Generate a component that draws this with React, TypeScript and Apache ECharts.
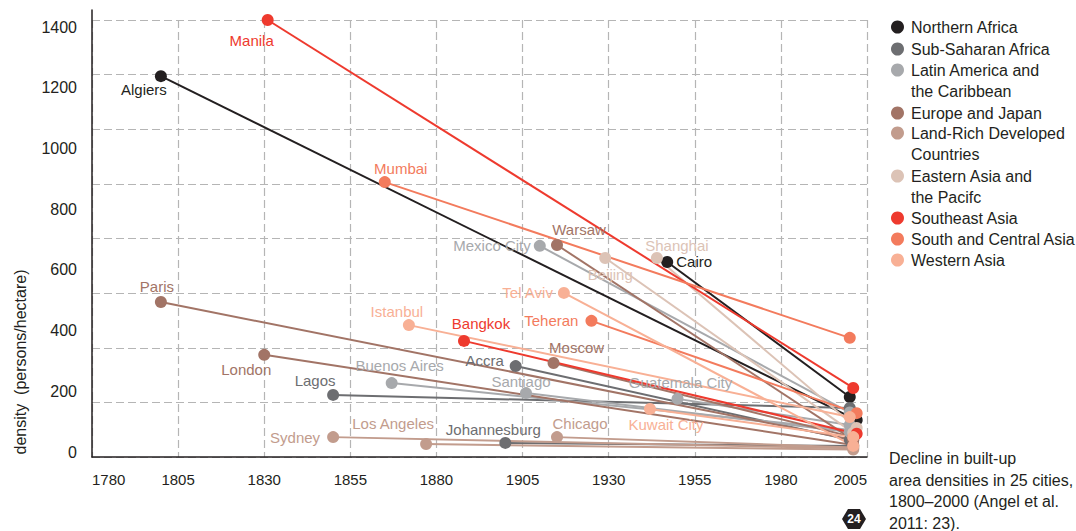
import React, { useEffect, useRef } from 'react';
import * as echarts from 'echarts';

const FONT = '"Liberation Sans", Arial, sans-serif';
const INK = '#231f20';

const regions = [
  'Northern Africa',
  'Sub-Saharan Africa',
  'Latin America and the Caribbean',
  'Europe and Japan',
  'Land-Rich Developed Countries',
  'Eastern Asia and the Pacifc',
  'Southeast Asia',
  'South and Central Asia',
  'Western Asia',
];
// legend text: first line beside the dot, optional second line below it
const legendFirstLines = [
  'Northern Africa',
  'Sub-Saharan Africa',
  'Latin America and',
  'Europe and Japan',
  'Land-Rich Developed',
  'Eastern Asia and',
  'Southeast Asia',
  'South and Central Asia',
  'Western Asia',
];
const legendSecondLines = ['', '', 'the Caribbean', '', 'Countries', 'the Pacifc', '', '', ''];
const regionColors = ['#231f20', '#6d6e71', '#a7a9ac', '#a27466', '#c29c8d', '#dcc3b6', '#ee3a2e', '#f37b5d', '#f8b095'];

const cities = [
  'Algiers', 'Cairo', 'Accra', 'Lagos', 'Johannesburg', 'Mexico City', 'Buenos Aires', 'Santiago',
  'Guatemala City', 'Paris', 'London', 'Warsaw', 'Moscow', 'Sydney', 'Los Angeles', 'Chicago',
  'Shanghai', 'Beijing', 'Manila', 'Bangkok', 'Mumbai', 'Teheran', 'Istanbul', 'Tel Aviv', 'Kuwait City',
];
const cityRegion = [0, 0, 1, 1, 1, 2, 2, 2, 2, 3, 3, 3, 3, 4, 4, 4, 5, 5, 6, 6, 7, 7, 8, 8, 8];
const startYear = [1800, 1947, 1903, 1850, 1900, 1910, 1867, 1906, 1950, 1800, 1830, 1915, 1914, 1850, 1877, 1915, 1944, 1929, 1831, 1888, 1865, 1925, 1872, 1917, 1942];
const startDensity = [1238, 626, 283, 188, 30, 679, 227, 194, 175, 494, 320, 682, 293, 49, 26, 49, 639, 639, 1423, 366, 889, 432, 418, 524, 142];
const endYear = [2002, 2000, 2000, 2000, 2001, 2000, 2001, 2000, 2000, 2001, 2001, 2001, 2001, 2001, 2001, 2001, 2002, 2001, 2001, 2002, 2000, 2002, 2000, 2001, 2001];
const endDensity = [105, 181, 40, 145, 20, 130, 72, 66, 89, 40, 23, 40, 49, 12, 8, 15, 79, 63, 211, 60, 376, 128, 115, 20, 49];

const yTicks = [0, 1400, 200];
const xTicks = [1780, 2005, 25];
const axisTitle = 'density  (persons/hectare)';
const caption = 'Decline in built-up\narea densities in 25 cities,\n1800–2000 (Angel et al.\n2011: 23).';
const pageNumber = '24';

// label placement (style only)
const labelLayout: Record<string, any> = {
  Algiers: { position: 'inside', offset: [-17, 13] },
  Cairo: { position: 'right', distance: 3 },
  Accra: { position: 'inside', offset: [-31, -6] },
  Lagos: { position: 'inside', offset: [-18, -14] },
  Johannesburg: { position: 'inside', offset: [-12, -13] },
  'Mexico City': { position: 'left', distance: 3 },
  'Buenos Aires': { position: 'inside', offset: [8, -18] },
  Santiago: { position: 'inside', offset: [-5, -12] },
  'Guatemala City': { position: 'inside', offset: [3, -16] },
  Paris: { position: 'inside', offset: [-4, -16] },
  London: { position: 'inside', offset: [-18, 15] },
  Warsaw: { position: 'inside', offset: [22, -15] },
  Moscow: { position: 'inside', offset: [23, -16] },
  Sydney: { position: 'left', distance: 7 },
  'Los Angeles': { position: 'inside', offset: [-33, -21] },
  Chicago: { position: 'inside', offset: [23, -14] },
  Shanghai: { position: 'inside', offset: [20, -13] },
  Beijing: { position: 'inside', offset: [5, 16] },
  Manila: { position: 'inside', offset: [-16, 20] },
  Bangkok: { position: 'inside', offset: [17, -17] },
  Mumbai: { position: 'inside', offset: [16, -14] },
  Teheran: { position: 'left', distance: 7 },
  Istanbul: { position: 'inside', offset: [-12, -14] },
  'Tel Aviv': { position: 'left', distance: 5 },
  'Kuwait City': { position: 'inside', offset: [16, 16] },
};
const legendCenters = [27, 49, 70, 113, 133, 176, 218, 239, 260];

export default function App() {
  const ref = useRef<HTMLDivElement>(null);
  useEffect(() => {
    document.body.style.margin = '0';
    const chart = echarts.init(ref.current!, null, { renderer: 'svg' });
    const gridL = 92;
    const gridR = 1076 - 867;
    const legendLeft = 891;
    const legendTextX = 911;
    const series: any[] = cities.map((city, i) => {
      const color = regionColors[cityRegion[i]];
      const lay = labelLayout[city] || { position: 'top' };
      return {
        type: 'line',
        name: regions[cityRegion[i]],
        xAxisIndex: 1,
        yAxisIndex: 1,
        clip: false,
        silent: true,
        symbol: 'circle',
        symbolSize: 12,
        showAllSymbol: true,
        lineStyle: { color, width: 2 },
        itemStyle: { color, borderWidth: 0 },
        emphasis: { disabled: true },
        data: [
          {
            value: [startYear[i], startDensity[i]],
            label: {
              show: true,
              formatter: city,
              color,
              fontSize: 15,
              fontFamily: FONT,
              position: lay.position,
              offset: lay.offset,
              distance: lay.distance,
              align: lay.position === 'inside' ? 'center' : undefined,
              verticalAlign: lay.position === 'inside' ? 'middle' : undefined,
            },
          },
          [endYear[i], endDensity[i]],
        ],
      };
    });

    const legends = regions.map((r, k) => ({
      show: true,
      data: [r],
      orient: 'vertical',
      left: legendLeft,
      top: legendCenters[k] - 10.5,
      padding: 0,
      itemGap: 0,
      itemWidth: 17,
      itemHeight: 13,
      icon: 'circle',
      selectedMode: false,
      formatter: () => legendFirstLines[k],
      textStyle: { fontSize: 16, lineHeight: 21, color: INK, fontFamily: FONT },
    }));

    const secondLineTexts = legendSecondLines
      .map((t, k) => ({ t, k }))
      .filter((o) => o.t)
      .map((o) => ({
        type: 'text',
        x: legendTextX,
        y: legendCenters[o.k] + 21,
        style: { text: o.t, fontSize: 16, fill: INK, verticalAlign: 'middle', fontFamily: FONT },
      }));

    const gridLineStyle = { color: '#b5b5b5', width: 1.2, type: [8, 4] };

    chart.setOption({
      animation: false,
      textStyle: { fontFamily: FONT },
      grid: [
        { left: gridL, right: gridR, top: 20, bottom: 531 - 457 },
        { left: gridL, right: gridR, top: 27, bottom: 531 - 452 },
        { left: gridL, right: gridR, top: 10, bottom: 531 - 457 },
      ],
      xAxis: [
        {
          type: 'value', gridIndex: 0, min: xTicks[0], max: xTicks[1], interval: xTicks[2],
          axisLine: { show: true, lineStyle: { color: INK, width: 1.5 } },
          axisTick: { show: false },
          axisLabel: {
            fontSize: 15, color: INK, margin: 15, alignMinLabel: 'left', alignMaxLabel: 'right', fontFamily: FONT,
            formatter: (v: number) => String(v),
          },
          splitLine: { show: true, lineStyle: gridLineStyle },
        },
        { type: 'value', gridIndex: 1, min: xTicks[0], max: xTicks[1], show: false },
        { type: 'value', gridIndex: 2, min: 0, max: 1, show: false },
      ],
      yAxis: [
        {
          type: 'value', gridIndex: 0, min: 0, max: 8, interval: 1,
          axisLine: { show: false }, axisTick: { show: false }, axisLabel: { show: false },
          splitLine: { show: true, lineStyle: gridLineStyle },
        },
        {
          type: 'value', gridIndex: 1, min: yTicks[0], max: yTicks[1], interval: yTicks[2],
          axisLine: { show: false }, axisTick: { show: false }, splitLine: { show: false },
          axisLabel: { fontSize: 16, color: INK, margin: 15, fontFamily: FONT, formatter: (v: number) => String(v) },
        },
        {
          type: 'value', gridIndex: 2, min: 0, max: 1,
          axisLine: { show: true, lineStyle: { color: INK, width: 1.5 } },
          axisTick: { show: false }, axisLabel: { show: false }, splitLine: { show: false },
        },
      ],
      legend: legends,
      graphic: [
        ...secondLineTexts,
        {
          type: 'text', x: 20, y: 362, rotation: Math.PI / 2,
          style: { text: axisTitle, fontSize: 16, fill: INK, align: 'center', verticalAlign: 'middle', fontFamily: FONT },
        },
        {
          type: 'text', x: 889, y: 448,
          style: { text: caption, fontSize: 16, lineHeight: 21.5, fill: INK, fontFamily: FONT },
        },
        {
          type: 'group', x: 854, y: 519,
          children: [
            { type: 'polygon', shape: { points: [[-12, 0], [-6, -10], [6, -10], [12, 0], [6, 10], [-6, 10]] }, style: { fill: INK } },
            { type: 'text', x: 0, y: 0, style: { text: pageNumber, fontSize: 12, fontWeight: 'bold', fill: '#fff', align: 'center', verticalAlign: 'middle', fontFamily: FONT } },
          ],
        },
      ],
      series,
    });
    return () => chart.dispose();
  }, []);
  return <div ref={ref} style={{ width: 1076, height: 531 }} />;
}
